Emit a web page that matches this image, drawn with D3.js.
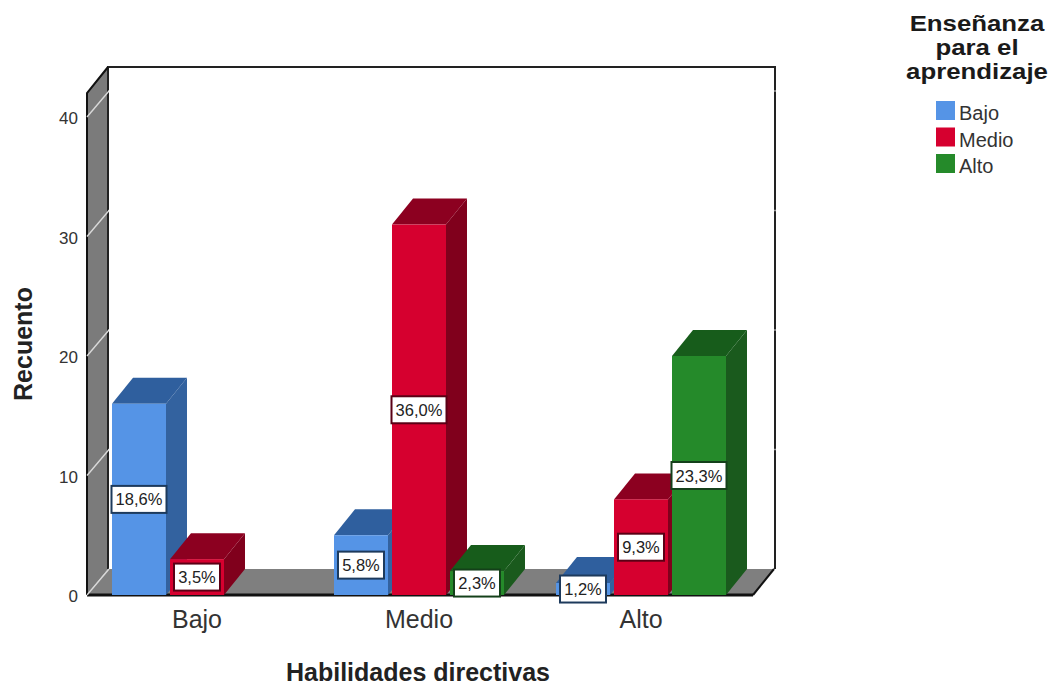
<!DOCTYPE html>
<html>
<head>
<meta charset="utf-8">
<script src="https://cdn.jsdelivr.net/npm/d3@7/dist/d3.min.js"></script>
<style>
  html, body { margin: 0; padding: 0; background: #fff; }
  svg { display: block; }
  text { font-family: "Liberation Sans", Arial, sans-serif; }
</style>
</head>
<body>
<svg id="chart" width="1053" height="689"></svg>
<script>
// Counts of "Enseñanza para el aprendizaje" within each "Habilidades directivas" level
const categories = ["Bajo", "Medio", "Alto"];
const seriesNames = ["Bajo", "Medio", "Alto"];
const seriesBajo = [16, 5, 1];
const seriesMedio = [3, 31, 8];
const seriesAlto = [null, 2, 20];
const percentBajo = ["18,6%", "5,8%", "1,2%"];
const percentMedio = ["3,5%", "36,0%", "9,3%"];
const percentAlto = [null, "2,3%", "23,3%"];
const yTicks = [0, 10, 20, 30, 40];

const frontColors = ["#5594e6", "#d6002f", "#258a2a"];
const topColors = ["#2f5f9e", "#8c0020", "#175c1b"];
const sideColors = ["#33629f", "#80001c", "#1a5a1d"];
const calloutBorders = ["#1d3a5c", "#5a0015", "#14401a"];

const svg = d3.select("#chart");

// Oblique depth of the 3D box
const depthX = 21, depthY = -26;
const left = 87, right = 753, floorY = 595;
const topBack = 67;

const x = d3.scaleBand().domain(categories).range([left, right]).padding(0);
const inner = d3.scaleBand().domain(seriesNames).range([25, 195]).paddingInner(0.069).paddingOuter(0);
const y = d3.scaleLinear().domain([0, 40]).range([floorY, 117]);

const poly = pts => pts.map(p => p.join(",")).join(" ");

// Left wall
svg.append("polygon")
  .attr("points", poly([[left, floorY], [left + depthX, floorY + depthY], [left + depthX, topBack], [left, topBack - depthY]]))
  .attr("fill", "#7b7b7b");

// Floor
svg.append("polygon")
  .attr("points", poly([[left, floorY], [right, floorY], [right + depthX, floorY + depthY], [left + depthX, floorY + depthY]]))
  .attr("fill", "#7f7f7f");

// Back wall outline
svg.append("path")
  .attr("d", `M${left + depthX},${floorY + depthY}V${topBack}H${right + depthX + 1}V${floorY + depthY}`)
  .attr("fill", "none").attr("stroke", "#222").attr("stroke-width", 2);

// Left wall and floor edges
svg.append("path")
  .attr("d", `M${left},${floorY}V${topBack - depthY}L${left + depthX},${topBack}`)
  .attr("fill", "none").attr("stroke", "#111").attr("stroke-width", 2);
svg.append("path")
  .attr("d", `M${right},${floorY}L${right + depthX},${floorY + depthY}`)
  .attr("fill", "none").attr("stroke", "#111").attr("stroke-width", 2);
svg.append("line")
  .attr("x1", left).attr("x2", right).attr("y1", floorY).attr("y2", floorY)
  .attr("stroke", "#111").attr("stroke-width", 3);

// Gridlines: light across the side wall, faint white across the back wall
svg.append("g").selectAll("line").data(yTicks).join("line")
  .attr("x1", left).attr("y1", d => y(d))
  .attr("x2", left + depthX + 1).attr("y2", d => y(d) + depthY)
  .attr("stroke", "#d9d9d9").attr("stroke-width", 1.4);
svg.append("g").selectAll("line").data(yTicks.slice(1)).join("line")
  .attr("x1", left + depthX).attr("x2", right + depthX + 3)
  .attr("y1", d => y(d) + depthY).attr("y2", d => y(d) + depthY)
  .attr("stroke", "#fff").attr("stroke-opacity", 0.55).attr("stroke-width", 1.4);

// Y-axis labels
svg.append("g").selectAll("text").data(yTicks).join("text")
  .attr("x", 78).attr("y", d => y(d) + 7)
  .attr("text-anchor", "end").attr("font-size", 17).attr("fill", "#333")
  .text(d => d);

// Bars, one series at a time
const allSeries = [seriesBajo, seriesMedio, seriesAlto];
const allPercent = [percentBajo, percentMedio, percentAlto];
const bars = [];
allSeries.forEach((values, s) => {
  values.forEach((v, c) => {
    if (v === null) return;
    bars.push({ s, c, v, label: allPercent[s][c] });
  });
});

const barG = svg.append("g");
bars.forEach(b => {
  const x0 = x(categories[b.c]) + inner(seriesNames[b.s]);
  const x1 = x0 + inner.bandwidth();
  const yTop = y(b.v);
  const g = barG.append("g");
  g.append("polygon")
    .attr("points", poly([[x1, yTop], [x1 + depthX, yTop + depthY], [x1 + depthX, floorY + depthY], [x1, floorY]]))
    .attr("fill", sideColors[b.s]);
  g.append("polygon")
    .attr("points", poly([[x0, yTop], [x0 + depthX, yTop + depthY], [x1 + depthX, yTop + depthY], [x1, yTop]]))
    .attr("fill", topColors[b.s]);
  g.append("rect")
    .attr("x", x0).attr("y", yTop).attr("width", x1 - x0).attr("height", floorY - yTop)
    .attr("fill", frontColors[b.s]);
});

// Percentage callouts centred on each bar's front face
const labelG = svg.append("g");
bars.forEach(b => {
  const x0 = x(categories[b.c]) + inner(seriesNames[b.s]);
  const cx = x0 + inner.bandwidth() / 2;
  const cy = (y(b.v) + floorY) / 2;
  const w = b.label.length >= 5 ? 55 : 46;
  labelG.append("rect")
    .attr("x", cx - w / 2).attr("y", cy - 13.5).attr("width", w).attr("height", 27)
    .attr("fill", "#fff").attr("stroke", calloutBorders[b.s]).attr("stroke-width", 2);
  labelG.append("text")
    .attr("x", cx).attr("y", cy + 6)
    .attr("text-anchor", "middle").attr("font-size", 16.5).attr("fill", "#222")
    .text(b.label);
});

// Category labels
svg.append("g").selectAll("text").data(categories).join("text")
  .attr("x", d => x(d) + x.bandwidth() / 2 - 1).attr("y", 628)
  .attr("text-anchor", "middle").attr("font-size", 25).attr("fill", "#333")
  .text(d => d);

// Axis titles
svg.append("text").attr("x", 418).attr("y", 681)
  .attr("text-anchor", "middle").attr("font-size", 25).attr("font-weight", "bold").attr("fill", "#222")
  .text("Habilidades directivas");
svg.append("text").attr("transform", "translate(32,344) rotate(-90)")
  .attr("text-anchor", "middle").attr("font-size", 25).attr("font-weight", "bold").attr("fill", "#222")
  .text("Recuento");

// Legend: the title is set in a slightly widened face
const legendTitle = ["Enseñanza", "para el", "aprendizaje"];
svg.append("g").attr("transform", "translate(977,0) scale(1.2,1)")
  .selectAll("text").data(legendTitle).join("text")
  .attr("x", 0).attr("y", (d, i) => 31 + i * 24)
  .attr("text-anchor", "middle").attr("font-size", 21.5).attr("font-weight", "bold").attr("fill", "#1a1a1a")
  .text(d => d);
const legend = svg.append("g").selectAll("g").data(seriesNames).join("g")
  .attr("transform", (d, i) => `translate(936,${101 + i * 26.5})`);
legend.append("rect").attr("width", 19).attr("height", 19)
  .attr("fill", (d, i) => frontColors[i]);
legend.append("text").attr("x", 23).attr("y", 19)
  .attr("font-size", 20).attr("fill", "#333").text(d => d);
</script>
</body>
</html>
